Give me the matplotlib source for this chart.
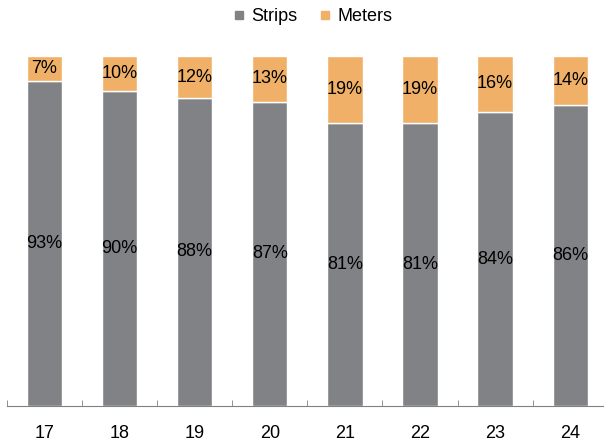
import matplotlib.pyplot as plt
import numpy as np
from matplotlib.lines import Line2D

plt.rcParams['font.family'] = ['Liberation Sans', 'DejaVu Sans']

years = ['17', '18', '19', '20', '21', '22', '23', '24']
strips = [93, 90, 88, 87, 81, 81, 84, 86]
meters = [7, 10, 12, 13, 19, 19, 16, 14]

grey = '#808285'
orange = '#F0B067'

fig = plt.figure(figsize=(6.04, 4.41), dpi=100)
ax = fig.add_axes([7/604, 35/441, 1 - 7/604, 350/441])

x = np.arange(len(years))
w = 0.47
ax.bar(x, strips, w, color=grey, edgecolor='white', linewidth=1)
ax.bar(x, meters, w, bottom=strips, color=orange, edgecolor='white', linewidth=1)

for i in range(len(years)):
    ax.text(x[i], strips[i] / 2, f'{strips[i]}%', ha='center', va='center', fontsize=13)
    ax.text(x[i], strips[i] + meters[i] / 2, f'{meters[i]}%', ha='center', va='center', fontsize=13)

ax.set_xlim(-0.5, 7.45)
ax.set_ylim(0, 100)
ax.set_yticks([])
ax.set_xticks(x)
ax.set_xticklabels(years, fontsize=13)
ax.tick_params(axis='x', which='major', length=0, pad=14)
ax.set_xticks(np.arange(-0.5, 7.5, 1), minor=True)
ax.tick_params(axis='x', which='minor', direction='in', length=4, color='#808080')
for s in ['top', 'right', 'left']:
    ax.spines[s].set_visible(False)
ax.spines['bottom'].set_color('#808080')

handles = [Line2D([], [], marker='s', color=grey, linestyle='', markersize=6),
           Line2D([], [], marker='s', color=orange, linestyle='', markersize=6)]
fig.legend(handles, ['Strips', 'Meters'], loc='center', bbox_to_anchor=(0.518, 0.962),
           ncol=2, frameon=False, fontsize=13, handlelength=0.6, handletextpad=0.4,
           columnspacing=1.2)

fig.savefig('out.png', dpi=100)
